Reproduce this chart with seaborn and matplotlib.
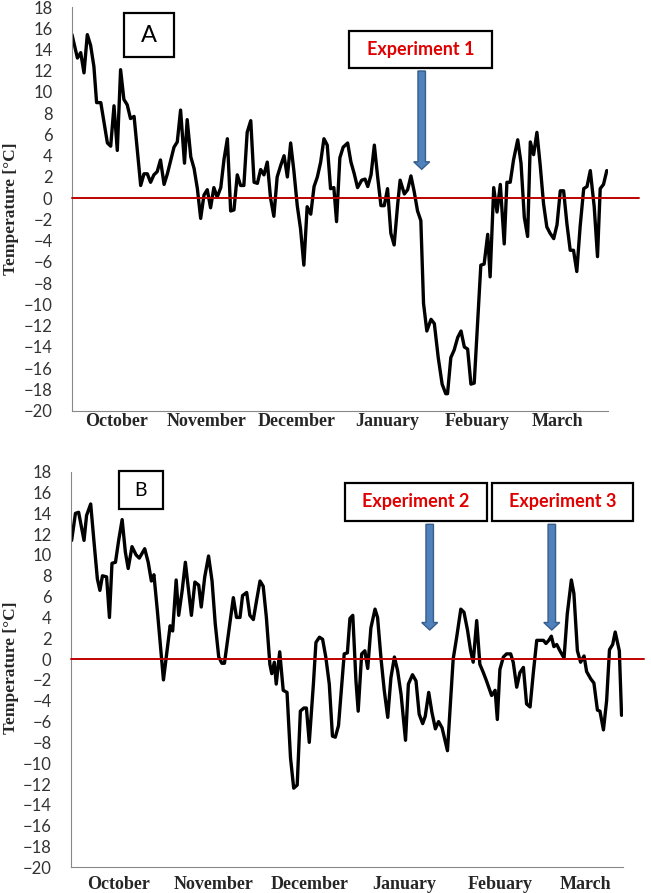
import pandas as pd
import seaborn as sns
import matplotlib.pyplot as plt
from matplotlib.patches import Rectangle, Polygon

# month axis (day index from 1 October)
months = ['October', 'November', 'December', 'January', 'Febuary', 'March']
month_edges = [0, 30, 60, 90, 120, 150]
month_centres = [15, 45, 75, 105, 135, 162]
y_ticks = list(range(-20, 19, 2))

# panel A - daily air temperature
day_a = [0, 1.8, 2.9, 4.0, 5.1, 6.2, 7.3, 8.2, 9.6, 11.8, 12.9, 14.0, 15.1, 16.2, 17.3, 18.4,
         19.5, 20.7, 22.9, 24.0, 25.1, 26.2, 27.3, 28.4, 29.5, 30.7, 31.8, 34.0, 35.1, 36.2,
         37.5, 38.4, 39.6, 40.7, 41.8, 42.9, 44.0, 45.1, 46.2, 47.3, 48.4, 49.6, 50.7, 51.8,
         52.9, 54.0, 55.1, 56.2, 57.3, 58.4, 59.6, 60.7, 61.8, 62.9, 64.0, 65.1, 66.2, 67.3,
         68.4, 69.6, 70.7, 71.8, 72.9, 74.0, 75.1, 76.2, 77.3, 78.4, 79.6, 80.7, 81.8, 82.9,
         84.0, 85.1, 86.2, 87.3, 88.2, 89.3, 90.4, 91.9, 93.0, 94.1, 95.2, 96.6, 97.7, 98.6,
         99.7, 100.8, 101.9, 103.0, 104.1, 105.2, 106.3, 107.4, 108.6, 109.4, 110.8, 111.9,
         113.0, 114.1, 115.2, 116.3, 117.2, 118.3, 119.7, 120.8, 122.1, 123.4, 124.6, 125.2,
         126.3, 127.4, 128.6, 129.7, 130.8, 131.9, 133.0, 134.1, 135.2, 136.3, 137.4, 138.6,
         139.4, 140.6, 141.7, 142.8, 144.1, 145.0, 146.1, 147.2, 148.6, 149.7, 150.8, 151.9,
         152.8, 153.9, 155.0, 156.1, 157.2, 158.3, 159.4, 160.6, 161.7, 162.8, 163.9, 165.0,
         166.1, 167.2, 168.3, 169.4, 170.6, 171.7, 172.8, 174.1, 175.2, 176.1, 177.2, 178.3]
temp_a = [15.4, 13.2, 13.7, 11.8, 15.4, 14.4, 12.4, 9.0, 9.0, 5.2, 4.9, 8.7, 4.5, 12.1, 9.3, 8.8,
          7.5, 7.7, 1.2, 2.3, 2.3, 1.5, 2.2, 2.5, 3.6, 1.3, 2.3, 4.8, 5.3, 8.3,
          3.3, 7.4, 3.9, 2.8, 0.9, -1.9, 0.3, 0.8, -0.9, 1.0, 0.1, 1.0, 3.7, 5.6,
          -1.2, -1.1, 2.2, 1.2, 1.2, 6.2, 7.3, 1.5, 1.4, 2.7, 2.2, 3.4, 0.0, -1.7,
          2.0, 3.1, 4.0, 2.0, 5.2, 2.5, -0.7, -2.9, -6.3, -0.8, -1.5, 1.1, 2.0, 3.4,
          5.6, 5.0, 0.9, 1.0, -2.2, 3.8, 4.8, 5.2, 3.4, 2.3, 1.0, 1.7, 1.8, 1.1,
          2.2, 5.0, 2.0, -0.7, -0.7, 0.9, -3.3, -4.4, -0.5, 1.7, 0.4, 0.8,
          2.1, 0.6, -1.2, -2.1, -9.9, -12.5, -11.4, -11.8, -15.0, -17.5, -18.4, -18.4,
          -15.0, -14.3, -13.1, -12.5, -14.0, -14.2, -17.5, -17.4, -11.8, -6.3, -6.2, -3.4,
          -7.4, 1.0, -1.3, 1.3, -4.3, 1.5, 1.5, 3.6, 5.5, 3.3, -1.8, -3.6,
          5.3, 4.1, 6.2, 3.1, -0.5, -2.7, -3.3, -3.8, -2.5, 0.7, 0.7, -2.4,
          -4.9, -4.9, -6.9, -2.7, 0.9, 1.1, 2.6, -0.8, -5.5, 0.9, 1.3, 2.6]

# panel B
day_b = [0.2, 1.4, 2.4, 4.1, 4.9, 6.2, 7.2, 8.3, 9.1, 9.9, 11.2, 12.1, 12.9, 14.0, 15.0, 16.1,
         17.1, 18.0, 19.2, 20.5, 21.5, 23.2, 24.3, 25.3, 26.1, 27.2, 28.2, 29.1, 30.1, 31.2,
         32.0, 33.1, 33.9, 35.0, 36.0, 37.1, 37.9, 39.0, 40.2, 41.0, 42.1, 43.3, 44.4, 45.4,
         46.5, 47.5, 48.3, 49.4, 51.1, 52.1, 53.2, 54.0, 55.3, 56.3, 57.4, 58.4, 59.5, 60.5,
         61.5, 62.6, 63.2, 64.0, 64.6, 65.7, 66.8, 68.0, 69.1, 70.1, 71.2, 72.2, 73.3, 74.1,
         75.0, 76.3, 77.1, 78.2, 79.2, 80.2, 81.3, 82.3, 83.2, 84.2, 85.3, 86.0, 87.0, 87.8,
         88.7, 89.7, 90.4, 91.5, 92.5, 93.4, 94.4, 95.7, 96.5, 97.6, 98.6, 99.7, 100.7, 101.8,
         102.8, 103.9, 105.3, 106.2, 107.5, 108.6, 109.6, 110.7, 111.5, 112.6, 113.6, 114.7,
         115.7, 116.8, 118.5, 120.3, 121.4, 122.7, 123.7, 124.8, 125.8, 126.6, 127.7, 128.7,
         129.8, 130.8, 132.4, 133.5, 134.2, 135.0, 136.1, 137.1, 138.4, 139.2, 140.3, 141.3,
         142.4, 143.4, 144.5, 145.5, 146.6, 147.6, 148.7, 149.5, 150.4, 151.2, 152.0, 152.9,
         153.9, 155.2, 156.2, 157.5, 158.3, 159.4, 160.4, 161.5, 162.3, 163.6, 164.6, 165.7,
         166.5, 167.6, 168.6, 169.5, 170.5, 171.3, 172.6, 173.3]
temp_b = [11.4, 14.0, 14.1, 11.4, 13.8, 14.9, 11.4, 7.7, 6.6, 8.0, 7.9, 4.0, 9.2, 9.3, 11.4, 13.4,
          10.3, 8.7, 10.8, 10.0, 9.7, 10.6, 9.3, 7.5, 8.1, 4.6, 1.1, -2.0, 0.5, 3.2,
          2.7, 7.6, 4.2, 6.6, 9.3, 6.3, 4.2, 7.4, 7.1, 5.0, 7.9, 9.9, 7.5, 3.4,
          0.2, -0.4, -0.4, 2.1, 5.9, 4.0, 4.0, 6.1, 6.4, 4.2, 3.8, 5.6, 7.5, 7.0,
          4.0, -0.5, -1.4, -0.3, -2.4, 0.7, -3.0, -3.2, -9.5, -12.4, -12.1, -5.0, -4.7, -4.7,
          -8.0, -2.4, 1.6, 2.1, 1.9, 0.2, -2.4, -7.4, -7.5, -6.4, -2.1, 0.5, 0.6, 3.9,
          4.2, -2.1, -5.0, 0.5, 0.8, -0.9, 3.0, 4.8, 4.0, 0.0, -3.0, -5.6, -1.8, 0.2,
          -1.1, -3.4, -7.8, -2.4, -1.5, -2.1, -5.3, -6.2, -5.5, -3.2, -5.1, -6.7,
          -6.0, -6.6, -8.8, 0.0, 2.1, 4.8, 4.5, 2.8, 0.8, -0.3, 3.7, -0.5,
          -1.3, -2.1, -3.5, -3.0, -5.8, -1.0, 0.2, 0.5, 0.5, -0.3, -2.7, -1.3,
          -0.8, -4.3, -4.6, -1.4, 1.8, 1.8, 1.8, 1.5, 1.8, 2.2, 1.2, 1.4,
          0.8, 0.1, 4.3, 7.6, 6.3, 0.8, -0.3, 0.3, -1.2, -1.9, -2.3, -4.9,
          -5.0, -6.8, -4.0, 0.9, 1.4, 2.6, 0.8, -5.4]

sns.set_style('white')
plt.rcParams['font.family'] = ['Lato', 'DejaVu Sans']

W, H = 651, 893
fig = plt.figure(figsize=(W / 100, H / 100), dpi=100)


def fx(px):
    return px / W


def fy(py):
    return 1 - py / H


def panel(left, top, right, bottom, days, temps, xmax, zero_ext, month_pad):
    ax = fig.add_axes([fx(left), fy(bottom), fx(right) - fx(left), fy(top) - fy(bottom)])
    df = pd.DataFrame({'day': days, 'temp': temps})
    sns.lineplot(data=df, x='day', y='temp', ax=ax, color='black', lw=2.4)
    ax.axhline(0, xmin=0, xmax=zero_ext, color='#C00000', lw=1.4, clip_on=False, zorder=3)
    ax.set_xlim(0, xmax)
    ax.set_ylim(-20, 18)
    ax.set_yticks(y_ticks)
    ax.set_xticks(month_edges)
    ax.set_xticklabels([])
    ax.set_xticks(month_centres, minor=True)
    ax.set_xticklabels(months, minor=True, family='Liberation Serif', weight='bold', fontsize=13)
    ax.tick_params(axis='x', which='major', direction='in', length=4, width=0.8, color='#888888')
    ax.tick_params(axis='x', which='minor', length=0, pad=month_pad)
    ax.tick_params(axis='y', direction='out', length=3, width=0.8, color='#888888',
                   pad=11, labelsize=12, labelcolor='#333333')
    for s in ['top', 'right']:
        ax.spines[s].set_visible(False)
    for s in ['left', 'bottom']:
        ax.spines[s].set_color('#888888')
        ax.spines[s].set_linewidth(0.8)
    ax.set_xlabel('')
    ax.set_ylabel('')
    return ax


def box(x0, y0, x1, y1, text, color, size, weight):
    fig.add_artist(Rectangle((fx(x0), fy(y1)), fx(x1) - fx(x0), fy(y0) - fy(y1),
                             transform=fig.transFigure, facecolor='white',
                             edgecolor='black', lw=1.6, zorder=5))
    fig.text(fx((x0 + x1) / 2), fy((y0 + y1) / 2), text, ha='center', va='center',
             color=color, fontsize=size, weight=weight, zorder=6)


def arrow(cx, top, tip, shaft=7.5, head=16, head_len=7.5):
    pts = [(cx - shaft / 2, top), (cx + shaft / 2, top), (cx + shaft / 2, tip - head_len),
           (cx + head / 2, tip - head_len), (cx, tip), (cx - head / 2, tip - head_len),
           (cx - shaft / 2, tip - head_len)]
    fig.add_artist(Polygon([(fx(x), fy(y)) for x, y in pts], closed=True,
                           transform=fig.transFigure, facecolor='#4F81BD',
                           edgecolor='#385D8A', lw=1, zorder=5))


ax_a = panel(72, 7, 608, 410.7, day_a, temp_a, 178.7, 1.058, 2)
ax_b = panel(71, 471.7, 623.3, 867.3, day_b, temp_b, 173.85, 1.037, 6)

for yc in [208.5, 668]:
    fig.text(fx(11), fy(yc), 'Temperature [°C]', rotation=90, ha='center', va='center',
             family='Liberation Serif', weight='bold', fontsize=12.5)

box(124, 13, 174, 57, 'A', 'black', 17, 'normal')
box(119, 471, 163, 509, 'B', 'black', 14, 'normal')
box(349, 31, 492, 68, 'Experiment 1', '#E00000', 13, 'bold')
box(345, 483, 487, 521, 'Experiment 2', '#E00000', 13, 'bold')
box(492, 483, 633, 521, 'Experiment 3', '#E00000', 13, 'bold')

arrow(421.7, 71, 169.3)
arrow(429.7, 524.3, 630)
arrow(551.8, 524.3, 630)

fig.savefig('out.png', dpi=100)
